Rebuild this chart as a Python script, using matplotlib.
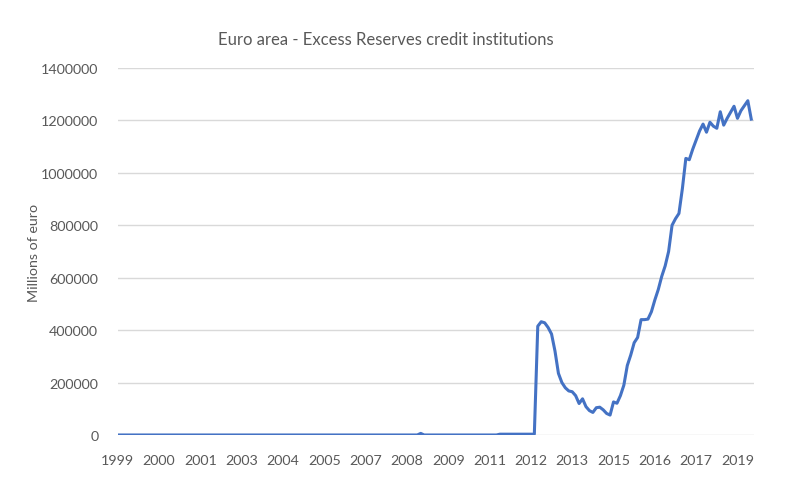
import matplotlib
matplotlib.use("Agg")
import matplotlib.pyplot as plt

# Excess reserves of euro area credit institutions, millions of euro (one value per period)
excess_reserves = [
    0, 0, 0, 0, 0, 0, 0, 0, 0, 0, 0, 0, 0, 0, 0, 0, 0, 0, 0, 0,
    0, 0, 0, 0, 0, 0, 0, 0, 0, 0, 0, 0, 0, 0, 0, 0, 0, 0, 0, 0,
    0, 0, 0, 0, 0, 0, 0, 0, 0, 0, 0, 0, 0, 0, 0, 0, 0, 0, 0, 0,
    0, 0, 0, 0, 0, 0, 0, 0, 0, 0, 0, 0, 0, 0, 0, 0, 0, 0, 0, 0,
    0, 0, 0, 0, 0, 0, 0, 0, 6000, 0, 0, 0, 0, 0, 0, 0, 0, 0, 0, 0,
    0, 0, 0, 0, 0, 0, 0, 0, 0, 0, 0, 3000, 3000, 3000, 3000, 3000, 3000, 3000, 3000, 3000,
    3000, 3000, 415000, 432000, 428000, 410000, 385000, 320000, 235000, 200000,
    180000, 168000, 165000, 150000, 120000, 138000, 108000, 93000, 86000, 104000,
    106000, 96000, 82000, 76000, 126000, 121000, 150000, 190000, 265000, 305000,
    352000, 372000, 440000, 440000, 442000, 470000, 515000, 555000, 605000, 645000,
    700000, 800000, 825000, 845000, 940000, 1055000, 1050000, 1090000, 1125000, 1160000,
    1186000, 1155000, 1193000, 1178000, 1170000, 1233000, 1182000, 1208000, 1231000, 1254000,
    1208000, 1237000, 1256000, 1275000, 1205000,
]

# Category labels shown every 12th period on the axis
year_labels = ["1999", "2000", "2001", "2003", "2004", "2005", "2007", "2008",
               "2009", "2011", "2012", "2013", "2015", "2016", "2017", "2019"]
label_step = 12

y_ticks = [0, 200000, 400000, 600000, 800000, 1000000, 1200000, 1400000]

text_color = "#595959"
plt.rcParams["font.family"] = ["Lato", "DejaVu Sans"]

fig = plt.figure(figsize=(7.9, 4.81), dpi=100)
ax = fig.add_axes([0.149, 0.0936, 0.805, 0.763])

x = list(range(len(excess_reserves)))
ax.plot(x, excess_reserves, color="#4472C4", linewidth=2.2, solid_joinstyle="round", zorder=3)

ax.set_ylim(0, 1400000)
ax.set_xlim(0, len(excess_reserves) - 0.3)
ax.set_yticks(y_ticks)
ax.set_yticklabels([str(v) for v in y_ticks])
ax.set_xticks(x[::label_step])
ax.set_xticklabels(year_labels)

ax.grid(axis="y", color="#D9D9D9", linewidth=1.0)
ax.set_axisbelow(True)
for side in ["top", "right", "left", "bottom"]:
    ax.spines[side].set_visible(False)
ax.tick_params(axis="both", length=0, labelsize=10.3, labelcolor=text_color)
ax.tick_params(axis="y", pad=14)
ax.tick_params(axis="x", pad=14)

ax.set_ylabel("Millions of euro", fontsize=10.3, color=text_color, labelpad=1)

fig.text(0.488, 1 - 40 / 481, "Euro area - Excess Reserves credit institutions",
         ha="center", va="center", fontsize=12, color=text_color)

fig.savefig("out.png", dpi=100, facecolor="white")
